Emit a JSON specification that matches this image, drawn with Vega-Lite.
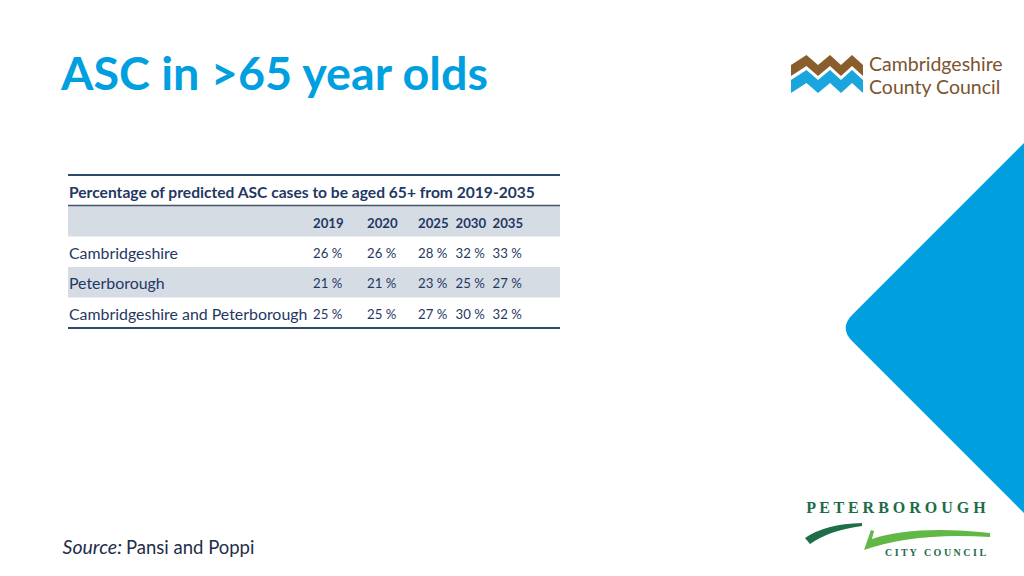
{
  "$schema": "https://vega.github.io/schema/vega-lite/v6.json",
  "width": 1024,
  "height": 576,
  "autosize": {"type": "fit", "contains": "padding"},
  "padding": 0,
  "background": "white",
  "config": {"view": {"stroke": null}},
  "datasets": {
    "table": [
      {"region": "Cambridgeshire", "year": 2019, "value": 26},
      {"region": "Cambridgeshire", "year": 2020, "value": 26},
      {"region": "Cambridgeshire", "year": 2025, "value": 28},
      {"region": "Cambridgeshire", "year": 2030, "value": 32},
      {"region": "Cambridgeshire", "year": 2035, "value": 33},
      {"region": "Peterborough", "year": 2019, "value": 21},
      {"region": "Peterborough", "year": 2020, "value": 21},
      {"region": "Peterborough", "year": 2025, "value": 23},
      {"region": "Peterborough", "year": 2030, "value": 25},
      {"region": "Peterborough", "year": 2035, "value": 27},
      {"region": "Cambridgeshire and Peterborough", "year": 2019, "value": 25},
      {"region": "Cambridgeshire and Peterborough", "year": 2020, "value": 25},
      {"region": "Cambridgeshire and Peterborough", "year": 2025, "value": 27},
      {"region": "Cambridgeshire and Peterborough", "year": 2030, "value": 30},
      {"region": "Cambridgeshire and Peterborough", "year": 2035, "value": 32}
    ],
    "one": [{"item": 1}],
    "bands": [{"row": "header"}, {"row": "Peterborough"}]
  },
  "layer": [
    {
      "data": {"name": "one"},
      "mark": {"type": "point", "filled": true, "strokeWidth": 0, "opacity": 1, "color": "#009FDF",
               "shape": "M -0.93,0.07 Q -1,0 -0.93,-0.07 L 0,-1 L 1,0 L 0,1 Z", "size": 144400},
      "encoding": {"x": {"value": 1029}, "y": {"value": 328}}
    },
    {
      "data": {"name": "one"},
      "mark": {"type": "text", "text": "ASC in >65 year olds", "font": "Lato", "fontWeight": "bold", "fontSize": 46.7,
               "color": "#00A0E0", "align": "left", "baseline": "alphabetic"},
      "encoding": {"x": {"value": 61}, "y": {"value": 90}}
    },
    {
      "data": {"name": "one"},
      "mark": {"type": "point", "filled": true, "strokeWidth": 0, "opacity": 1, "color": "#8A5E2C",
               "shape": "M -0.973,-0.243 L -0.554,-0.514 L -0.243,-0.243 L 0.081,-0.514 L 0.378,-0.243 L 0.676,-0.514 L 0.973,-0.243 L 0.973,0.054 L 0.676,-0.216 L 0.378,0.054 L 0.081,-0.216 L -0.243,0.054 L -0.554,-0.216 L -0.973,0.054 Z",
               "size": 5476},
      "encoding": {"x": {"value": 827}, "y": {"value": 74}}
    },
    {
      "data": {"name": "one"},
      "mark": {"type": "point", "filled": true, "strokeWidth": 0, "opacity": 1, "color": "#1BA5DE",
               "shape": "M -0.973,0.162 L -0.554,-0.108 L -0.243,0.162 L 0.081,-0.108 L 0.378,0.162 L 0.676,-0.108 L 0.973,0.162 L 0.973,0.514 L 0.676,0.243 L 0.378,0.514 L 0.081,0.243 L -0.243,0.514 L -0.554,0.243 L -0.973,0.514 Z",
               "size": 5476},
      "encoding": {"x": {"value": 827}, "y": {"value": 74}}
    },
    {
      "data": {"name": "one"},
      "mark": {"type": "text", "text": "Cambridgeshire", "font": "Lato", "fontSize": 19.5, "color": "#7B5530", "align": "left", "baseline": "alphabetic"},
      "encoding": {"x": {"value": 869}, "y": {"value": 71}}
    },
    {
      "data": {"name": "one"},
      "mark": {"type": "text", "text": "County Council", "font": "Lato", "fontSize": 19.5, "color": "#7B5530", "align": "left", "baseline": "alphabetic"},
      "encoding": {"x": {"value": 869}, "y": {"value": 94}}
    },
    {
      "data": {"name": "one"},
      "mark": {"type": "text", "text": "P E T E R B O R O U G H", "font": "Liberation Serif", "fontWeight": "bold", "fontSize": 16, "color": "#1E6B48", "align": "center", "baseline": "alphabetic"},
      "encoding": {"x": {"value": 896}, "y": {"value": 513}}
    },
    {
      "data": {"name": "one"},
      "mark": {"type": "point", "filled": true, "strokeWidth": 0, "opacity": 1, "color": "#1E6E47",
               "shape": "M -1,-0.022 Q -0.778,-0.178 -0.367,-0.189 L -0.367,-0.156 Q -0.722,-0.111 -0.944,0.044 Z",
               "size": 32400},
      "encoding": {"x": {"value": 895}, "y": {"value": 540}}
    },
    {
      "data": {"name": "one"},
      "mark": {"type": "point", "filled": true, "strokeWidth": 0, "opacity": 1, "color": "#62B846",
               "shape": "M -0.267,-0.111 L -0.233,-0.1 L -0.256,-0.011 Q 0.222,-0.167 1.056,-0.078 L 1.056,-0.033 Q 0.222,-0.089 -0.344,0.111 Z",
               "size": 32400},
      "encoding": {"x": {"value": 895}, "y": {"value": 540}}
    },
    {
      "data": {"name": "one"},
      "mark": {"type": "text", "text": "C I T Y \u00a0 C O U N C I L", "font": "Liberation Serif", "fontWeight": "bold", "fontSize": 10, "color": "#1E6B48", "align": "left", "baseline": "alphabetic"},
      "encoding": {"x": {"value": 885}, "y": {"value": 556}}
    },
    {
      "data": {"name": "bands"},
      "mark": {"type": "rect", "color": "#D6DCE4"},
      "encoding": {
        "y": {"field": "row", "type": "nominal", "axis": null,
              "scale": {"type": "band", "domain": ["header", "Cambridgeshire", "Peterborough", "Cambridgeshire and Peterborough"], "range": [206, 328], "paddingInner": 0, "paddingOuter": 0}},
        "x": {"value": 68},
        "x2": {"value": 560}
      }
    },
    {
      "data": {"name": "one"},
      "mark": {"type": "rule", "color": "#2D4A6B", "strokeWidth": 2},
      "encoding": {"x": {"value": 68}, "x2": {"value": 560}, "y": {"value": 175}}
    },
    {
      "data": {"name": "one"},
      "mark": {"type": "rule", "color": "#44546A", "strokeWidth": 1.5},
      "encoding": {"x": {"value": 68}, "x2": {"value": 560}, "y": {"value": 205.5}}
    },
    {
      "data": {"name": "one"},
      "mark": {"type": "rule", "color": "#2D4A6B", "strokeWidth": 2},
      "encoding": {"x": {"value": 68}, "x2": {"value": 560}, "y": {"value": 328}}
    },
    {
      "data": {"name": "one"},
      "mark": {"type": "text", "text": "Percentage of predicted ASC cases to be aged 65+ from 2019-2035", "font": "Lato", "fontWeight": "bold", "fontSize": 15.6, "color": "#1F3864", "align": "left", "baseline": "middle", "dy": 2},
      "encoding": {"x": {"value": 69}, "y": {"value": 191}}
    },
    {
      "data": {"name": "table"},
      "transform": [{"filter": "datum.region === 'Cambridgeshire'"}],
      "mark": {"type": "text", "font": "Lato", "fontWeight": "bold", "fontSize": 13.2, "color": "#1F3864", "align": "left", "baseline": "middle", "dy": 2},
      "encoding": {
        "x": {"field": "year", "type": "quantitative", "axis": null,
              "scale": {"domain": [2019, 2020, 2025, 2030, 2035], "range": [313, 367, 418, 455.5, 492.5]}},
        "y": {"value": 222},
        "text": {"field": "year", "type": "quantitative", "format": "d"}
      }
    },
    {
      "data": {"name": "table"},
      "transform": [{"filter": "datum.year === 2019"}],
      "mark": {"type": "text", "font": "Lato", "fontSize": 15.9, "color": "#1F3864", "align": "left", "baseline": "middle", "dy": 2},
      "encoding": {
        "x": {"value": 69},
        "y": {"field": "region", "type": "nominal", "axis": null, "bandPosition": 0.5,
              "scale": {"type": "band", "domain": ["header", "Cambridgeshire", "Peterborough", "Cambridgeshire and Peterborough"], "range": [206, 328], "paddingInner": 0, "paddingOuter": 0}},
        "text": {"field": "region", "type": "nominal"}
      }
    },
    {
      "data": {"name": "table"},
      "transform": [{"calculate": "datum.value + ' %'", "as": "label"}],
      "mark": {"type": "text", "font": "Lato", "fontSize": 13.2, "color": "#1F3864", "align": "left", "baseline": "middle", "dy": 2},
      "encoding": {
        "x": {"field": "year", "type": "quantitative", "axis": null,
              "scale": {"domain": [2019, 2020, 2025, 2030, 2035], "range": [313, 367, 418, 455.5, 492.5]}},
        "y": {"field": "region", "type": "nominal", "axis": null, "bandPosition": 0.5,
              "scale": {"type": "band", "domain": ["header", "Cambridgeshire", "Peterborough", "Cambridgeshire and Peterborough"], "range": [206, 328], "paddingInner": 0, "paddingOuter": 0}},
        "text": {"field": "label", "type": "nominal"}
      }
    },
    {
      "data": {"name": "one"},
      "mark": {"type": "text", "text": "Source:", "font": "Lato", "fontStyle": "italic", "fontSize": 19.5, "color": "#1F2D4A", "align": "right", "baseline": "alphabetic"},
      "encoding": {"x": {"value": 122}, "y": {"value": 554}}
    },
    {
      "data": {"name": "one"},
      "mark": {"type": "text", "text": "Pansi and Poppi", "font": "Lato", "fontSize": 18.5, "color": "#1F2D4A", "align": "left", "baseline": "alphabetic"},
      "encoding": {"x": {"value": 126}, "y": {"value": 554}}
    }
  ],
  "resolve": {"scale": {"x": "independent", "y": "independent"}}
}
